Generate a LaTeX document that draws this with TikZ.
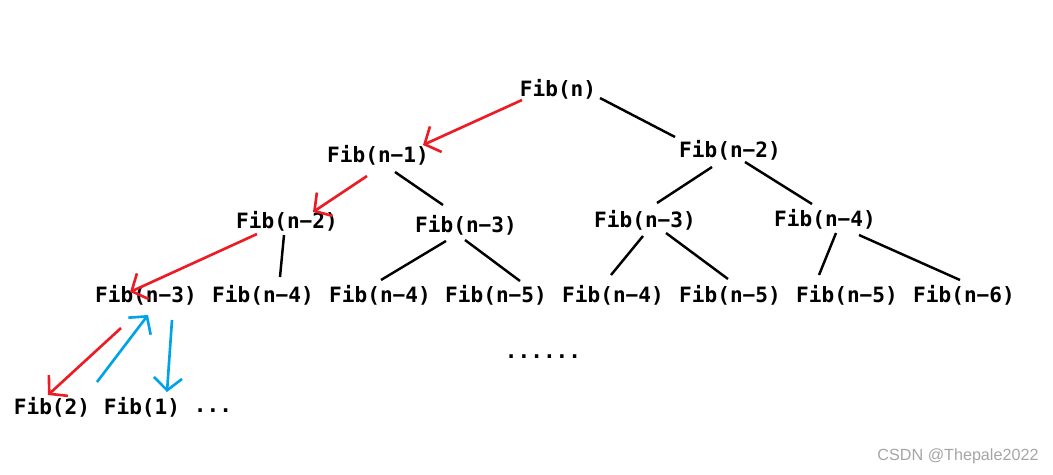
\documentclass[tikz,border=0pt]{standalone}
\usepackage{fontspec}
\usepackage{tikz}
\usetikzlibrary{calc,arrows.meta}
\setmainfont{Liberation Sans}
\newfontfamily\fibmono{DejaVu Sans Mono}
\definecolor{paintRed}{RGB}{237,28,36}
\definecolor{paintBlue}{RGB}{0,162,232}
\definecolor{markGray}{RGB}{165,165,165}

\begin{document}
\begin{tikzpicture}[x=0.02cm,y=-0.02cm,
  fib/.style={font=\fibmono\bfseries\fontsize{12}{14}\selectfont, inner sep=1pt},
  edge/.style={black, line width=1.4pt},
  walk/.style={line width=1.5pt, -{Straight Barb[length=7pt,width=16pt]}},
]
\useasboundingbox (0,0) rectangle (1053,474);
% call tree
\node[fib] (fn) at (558,89) {Fib(n)};
\node[fib] (fl1) at (378,155) {Fib(n−1)};
\node[fib] (fr2) at (730,150) {Fib(n−2)};
\node[fib] (fl2) at (287,221) {Fib(n−2)};
\node[fib] (fm3) at (466,225) {Fib(n−3)};
\node[fib] (fr3) at (645,220) {Fib(n−3)};
\node[fib] (fr4) at (825,219) {Fib(n−4)};
\node[fib] (b1) at (146,295) {Fib(n−3)};
\node[fib] (b2) at (263,295) {Fib(n−4)};
\node[fib] (b3) at (380,295) {Fib(n−4)};
\node[fib] (b4) at (496,295) {Fib(n−5)};
\node[fib] (b5) at (613,295) {Fib(n−4)};
\node[fib] (b6) at (730,295) {Fib(n−5)};
\node[fib] (b7) at (847,295) {Fib(n−5)};
\node[fib] (b8) at (964,295) {Fib(n−6)};
\node[fib] (more) at (543,357) {......};
\node[fib] (f2) at (52,407) {Fib(2)};
\node[fib] (f1) at (142,407) {Fib(1)};
\node[fib] (tail) at (213,411) {...};
\node[font=\fontsize{9.2}{11}\selectfont, text=markGray] (mark) at (958,456) {CSDN @Thepale2022};

% black edges
\draw[edge] ($(fn)+(42,9)$) -- ($(fr2)+(-55,-13)$);
\draw[edge] ($(fl1)+(17,17)$) -- ($(fm3)+(-23,-20)$);
\draw[edge] ($(fr2)+(-18,17)$) -- ($(fr3)+(12,-17)$);
\draw[edge] ($(fr2)+(15,12)$) -- ($(fr4)+(-13,-15)$);
\draw[edge] ($(fl2)+(-3,14)$) -- ($(b2)+(17,-18)$);
\draw[edge] ($(fm3)+(-20,16)$) -- ($(b3)+(1,-15)$);
\draw[edge] ($(fm3)+(-1,15)$) -- ($(b4)+(24,-14)$);
\draw[edge] ($(fr3)+(-2,16)$) -- ($(b5)+(-2,-20)$);
\draw[edge] ($(fr3)+(21,13)$) -- ($(b6)+(-2,-16)$);
\draw[edge] ($(fr4)+(11,14)$) -- ($(b7)+(-28,-20)$);
\draw[edge] ($(fr4)+(34,16)$) -- ($(b8)+(-4,-15)$);

% red: going down
\draw[walk, paintRed] ($(fn)+(-36,11)$) -- ($(fl1)+(45,-10)$);
\draw[walk, paintRed] ($(fl1)+(-11,21)$) -- ($(fl2)+(26,-9)$);
\draw[walk, paintRed] ($(fl2)+(-30,13)$) -- ($(b1)+(-16,-3)$);
\draw[walk, paintRed] ($(b1)+(-25,33)$) -- ($(f2)+(-4,-12)$);

% blue: back up and down again
\draw[walk, paintBlue] ($(f2)+(45,-25)$) -- ($(b1)+(2,20)$);
\draw[walk, paintBlue] ($(b1)+(26,25)$) -- ($(f1)+(25,-15)$);
\end{tikzpicture}
\end{document}
